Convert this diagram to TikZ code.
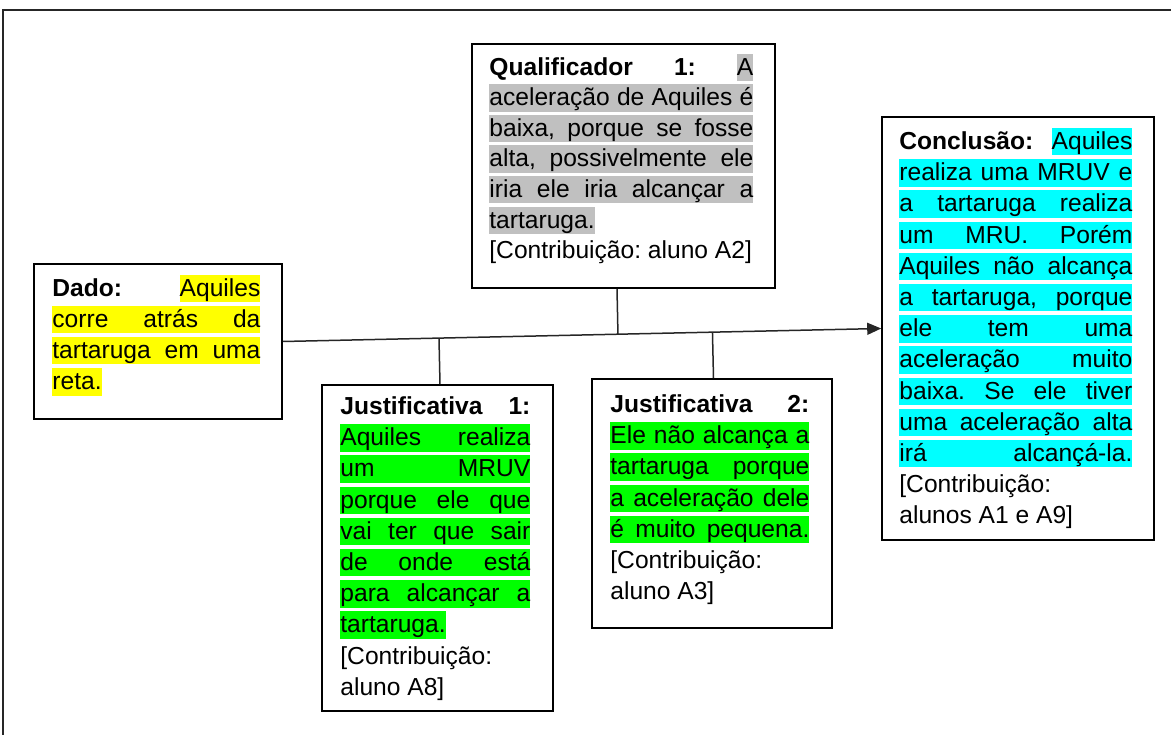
\documentclass[tikz,border=0pt]{standalone}
\usepackage{fontspec}
\setmainfont{Liberation Sans}
\usetikzlibrary{calc,arrows.meta}
\frenchspacing

\definecolor{hlyellow}{HTML}{FFFF00}
\definecolor{hlgreen}{HTML}{00FF00}
\definecolor{hlcyan}{HTML}{00FFFF}
\definecolor{hlgray}{HTML}{C0C0C0}

% strut giving every line the same height and the highlight band its size
\newcommand\hlstrut{\rule[-6pt]{0pt}{27.5pt}}
% highlighted word(s) only
\newcommand\hlword[2]{{\setlength\fboxsep{0pt}\colorbox{#1}{\hlstrut#2}}}
% justified line (spaces stretched to the given width)
\newcommand\jline[2]{\makebox[#1][s]{\hlstrut#2}}
% justified line, fully highlighted
\newcommand\hlline[3]{{\setlength\fboxsep{0pt}\colorbox{#1}{\makebox[#2][s]{\hlstrut#3}}}}
% plain line with natural width
\newcommand\pline[1]{\hlstrut#1}

\tikzset{
  argbox/.style={draw=black, line width=1.6pt, inner sep=0pt},
  argtext/.style={anchor=north west, inner sep=0pt, align=left,
    font={\fontsize{24.6pt}{31.2pt}\selectfont}, text=black},
  link/.style={draw=black!85, line width=1.5pt},
  frame/.style={draw=black!85, line width=1.4pt}
}

\begin{document}
\begin{tikzpicture}[x=1pt,y=-1pt]
\useasboundingbox (0,0) rectangle (1171,735);

% outer frame (top and left edges)
\draw[frame] (1180,10) -- (3,10) -- (3,745);

% boxes
\node[argbox, minimum width=303pt, minimum height=244pt] (qual)  at (623.5,166)   {};
\node[argbox, minimum width=248pt, minimum height=155pt] (dado)  at (158,341.5)   {};
\node[argbox, minimum width=272pt, minimum height=423pt] (concl) at (1018,328.5)  {};
\node[argbox, minimum width=231pt, minimum height=326pt] (jone)  at (437.5,548)   {};
\node[argbox, minimum width=240pt, minimum height=249pt] (jtwo)  at (712,503.5)   {};

% texts
\node[argtext, font={\fontsize{24.6pt}{30.6pt}\selectfont}] (qualtxt) at ($(qual.north west)+(18,10.2)$) {%
  \jline{264pt}{\textbf{Qualificador} \textbf{1:} \hlword{hlgray}{A}}\\
  \hlline{hlgray}{264pt}{aceleração de Aquiles é}\\
  \hlline{hlgray}{264pt}{baixa, porque se fosse}\\
  \hlline{hlgray}{264pt}{alta, possivelmente ele}\\
  \hlline{hlgray}{264pt}{iria ele iria alcançar a}\\
  \hlword{hlgray}{tartaruga.}\\
  \pline{[Contribuição: aluno A2]}};

\node[argtext] (dadotxt) at ($(dado.north west)+(19,11.2)$) {%
  \jline{208pt}{\textbf{Dado:} \hlword{hlyellow}{Aquiles}}\\
  \hlline{hlyellow}{208pt}{corre atrás da}\\
  \hlline{hlyellow}{208pt}{tartaruga em uma}\\
  \hlword{hlyellow}{reta.}};

\node[argtext] (concltxt) at ($(concl.north west)+(18,11.5)$) {%
  \jline{233pt}{\textbf{Conclusão:} \hlword{hlcyan}{Aquiles}}\\
  \hlline{hlcyan}{233pt}{realiza uma MRUV e}\\
  \hlline{hlcyan}{233pt}{a tartaruga realiza}\\
  \hlline{hlcyan}{233pt}{um MRU. Porém}\\
  \hlline{hlcyan}{233pt}{Aquiles não alcança}\\
  \hlline{hlcyan}{233pt}{a tartaruga, porque}\\
  \hlline{hlcyan}{233pt}{ele tem uma}\\
  \hlline{hlcyan}{233pt}{aceleração muito}\\
  \hlline{hlcyan}{233pt}{baixa. Se ele tiver}\\
  \hlline{hlcyan}{233pt}{uma aceleração alta}\\
  \hlline{hlcyan}{233pt}{irá alcançá-la.}\\
  \pline{[Contribuição:}\\
  \pline{alunos A1 e A9]}};

\node[argtext] (jonetxt) at ($(jone.north west)+(19,8.5)$) {%
  \jline{190pt}{\textbf{Justificativa} \textbf{1:}}\\
  \hlline{hlgreen}{190pt}{Aquiles realiza}\\
  \hlline{hlgreen}{190pt}{um MRUV}\\
  \hlline{hlgreen}{190pt}{porque ele que}\\
  \hlline{hlgreen}{190pt}{vai ter que sair}\\
  \hlline{hlgreen}{190pt}{de onde está}\\
  \hlline{hlgreen}{190pt}{para alcançar a}\\
  \hlword{hlgreen}{tartaruga.}\\
  \pline{[Contribuição:}\\
  \pline{aluno A8]}};

\node[argtext] (jtwotxt) at ($(jtwo.north west)+(19,12.5)$) {%
  \jline{199pt}{\textbf{Justificativa} \textbf{2:}}\\
  \hlline{hlgreen}{199pt}{Ele não alcança a}\\
  \hlline{hlgreen}{199pt}{tartaruga porque}\\
  \hlline{hlgreen}{199pt}{a aceleração dele}\\
  \hlline{hlgreen}{199pt}{é muito pequena.}\\
  \pline{[Contribuição:}\\
  \pline{aluno A3]}};

% main claim line: data -> conclusion
\draw[link, -{Triangle[length=14pt,width=12pt]}] (dado.east) -- (concl.west);

% qualifier and warrants attached to the main line
\coordinate (qc) at ($(qual.south)+(-6.5,0)$);
\coordinate (j1c) at ($(jone.north)+(2.5,0)$);
\coordinate (j2c) at ($(jtwo.north)+(1.5,0)$);
\draw[link] (qc)  -- ($(dado.east)!(qc)!(concl.west)$);
\draw[link] (j1c) -- ($(dado.east)!(j1c)!(concl.west)$);
\draw[link] (j2c) -- ($(dado.east)!(j2c)!(concl.west)$);
\end{tikzpicture}
\end{document}
